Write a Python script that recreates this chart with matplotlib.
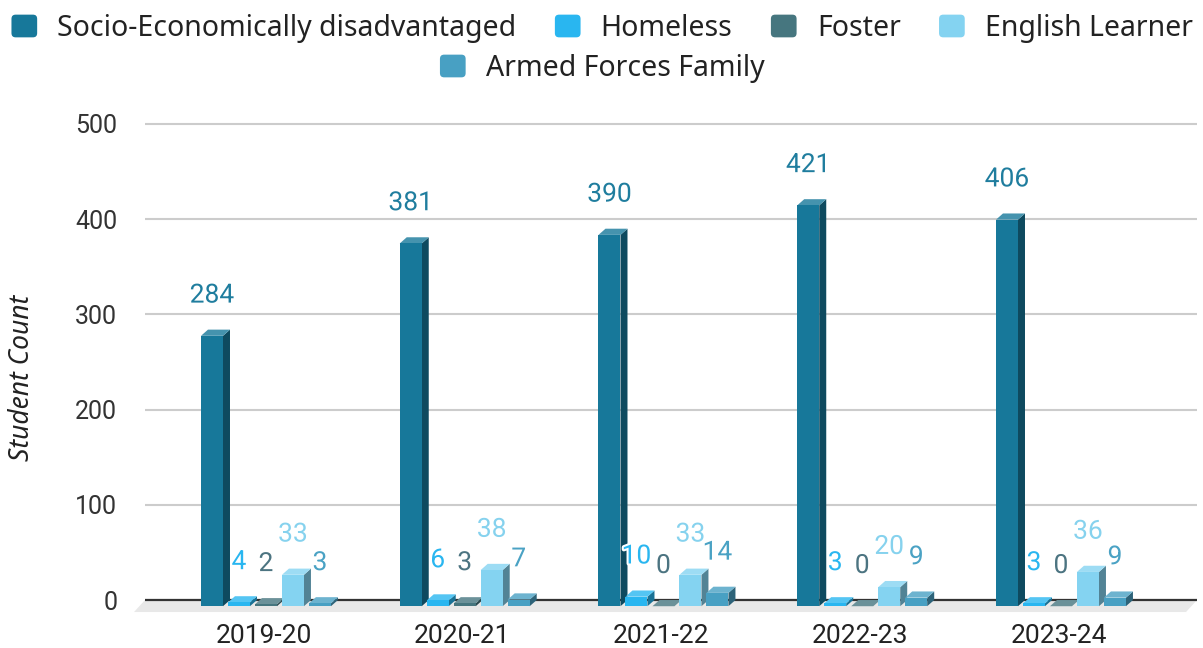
import numpy as np
import matplotlib
matplotlib.use('Agg')
import matplotlib.pyplot as plt
import matplotlib.patheffects as pe
from matplotlib.patches import Polygon, Patch, FancyBboxPatch
from matplotlib.legend_handler import HandlerPatch
from matplotlib.colors import to_rgb

# Data

years = ['2019-20', '2020-21', '2021-22', '2022-23', '2023-24']
series = ['Socio-Economically disadvantaged', 'Homeless', 'Foster',
          'English Learner', 'Armed Forces Family']
sed = [284, 381, 390, 421, 406]
homeless = [4, 6, 10, 3, 3]
foster = [2, 3, 0, 0, 0]
english_learner = [33, 38, 33, 20, 36]
armed_forces = [3, 7, 14, 9, 9]
values = [sed, homeless, foster, english_learner, armed_forces]

colors = ['#17789a', '#29b6f0', '#46767f', '#84d3f1', '#48a0c3']
label_colors = ['#1f7d9e', '#29b6f0', '#4c7481', '#86d2ee', '#4aa2c4']

# Geometry (category units / value units)

pitch = 0.1358        # spacing between bars inside a group
w = 0.1107            # front face width
start = -0.3145       # left edge of first bar relative to category
ddx, ddy = 0.0352, 6.5    # 3D depth of the bars
fdx, fdy = 0.0553, 12.6   # depth of the floor


def shade(c, f):
    r = np.array(to_rgb(c))
    return tuple(r * f)


def tint(c, f):
    r = np.array(to_rgb(c))
    return tuple(r + (1 - r) * f)


fig = plt.figure(figsize=(12.03, 6.48), dpi=100)
ax = fig.add_axes([145 / 1203, 1 - 612.4 / 648, 1052 / 1203, 0.7611])

xmin = (145 - 263.5) / 198.75
xmax = (1197 - 263.5) / 198.75
ax.set_xlim(xmin, xmax)
ax.set_ylim(-13, 505)

# floor
floor = Polygon([(xmin, 0), (xmax, 0), (xmax - fdx, -fdy), (xmin - fdx, -fdy)],
                closed=True, facecolor='#e8e8e8', edgecolor='none', zorder=1, clip_on=False)
ax.add_patch(floor)
ax.axhline(0, color='#333333', lw=1.6, zorder=2)

for s, (vals, c, lc) in enumerate(zip(values, colors, label_colors)):
    for i, v in enumerate(vals):
        x = i + start + s * pitch
        front = [(x, -ddy), (x + w, -ddy), (x + w, v - ddy), (x, v - ddy)]
        side = [(x + w, -ddy), (x + w + ddx, 0), (x + w + ddx, v), (x + w, v - ddy)]
        top = [(x, v - ddy), (x + ddx, v), (x + w + ddx, v), (x + w, v - ddy)]
        ax.add_patch(Polygon(side, closed=True, facecolor=shade(c, 0.62), edgecolor='none', zorder=3))
        ax.add_patch(Polygon(top, closed=True, facecolor=tint(c, 0.2), edgecolor='none', zorder=3))
        ax.add_patch(Polygon(front, closed=True, facecolor=c, edgecolor='none', zorder=3))
        ax.annotate(str(v), xy=(x + w / 2, v), xytext=(0, 24.5), textcoords='offset points',
                    ha='center', va='center', fontsize=19, family='Roboto', color=lc, zorder=5,
                    path_effects=[pe.withStroke(linewidth=3, foreground='white')])

ax.set_yticks([0, 100, 200, 300, 400, 500])
ax.set_xticks(range(len(years)))
ax.set_xticklabels(years)
ax.grid(axis='y', color='#cccccc', lw=1.5, zorder=0)
ax.set_axisbelow(True)
for sp in ax.spines.values():
    sp.set_visible(False)
ax.tick_params(axis='both', length=0)
ax.tick_params(axis='x', pad=8, labelsize=19, labelcolor='#222222')
ax.tick_params(axis='y', pad=20, labelsize=18, labelcolor='#333333')
for t in ax.get_xticklabels() + ax.get_yticklabels():
    t.set_family('Roboto')

fig.text(22 / 1203, 1 - 378 / 648, 'Student Count', rotation=90, ha='center', va='center',
         fontsize=19, style='italic', family='Noto Sans', color='#222222')

# Legend


def rounded(legend, orig_handle, xdescent, ydescent, width, height, fontsize):
    return FancyBboxPatch((-xdescent + 1, -ydescent + 1), width - 2, height - 2,
                          boxstyle='round,pad=0,rounding_size=3')


handles = [Patch(facecolor=c, edgecolor='none') for c in colors]
hmap = {h: HandlerPatch(patch_func=rounded) for h in handles}
kw = dict(frameon=False, handlelength=1.0, handleheight=1.0,
          handletextpad=0.66, columnspacing=1.3, borderpad=0, borderaxespad=0,
          prop={'family': 'Noto Sans', 'size': 20.5}, labelcolor='#222222', handler_map=hmap)
leg1 = fig.legend(handles[:4], series[:4], loc='center', ncol=4,
                  bbox_to_anchor=(0.5, 1 - 28 / 648), **kw)
leg2 = fig.legend(handles[4:], series[4:], loc='center', ncol=1,
                  bbox_to_anchor=(0.5, 1 - 68 / 648), **kw)

fig.savefig('out.png', dpi=100)
